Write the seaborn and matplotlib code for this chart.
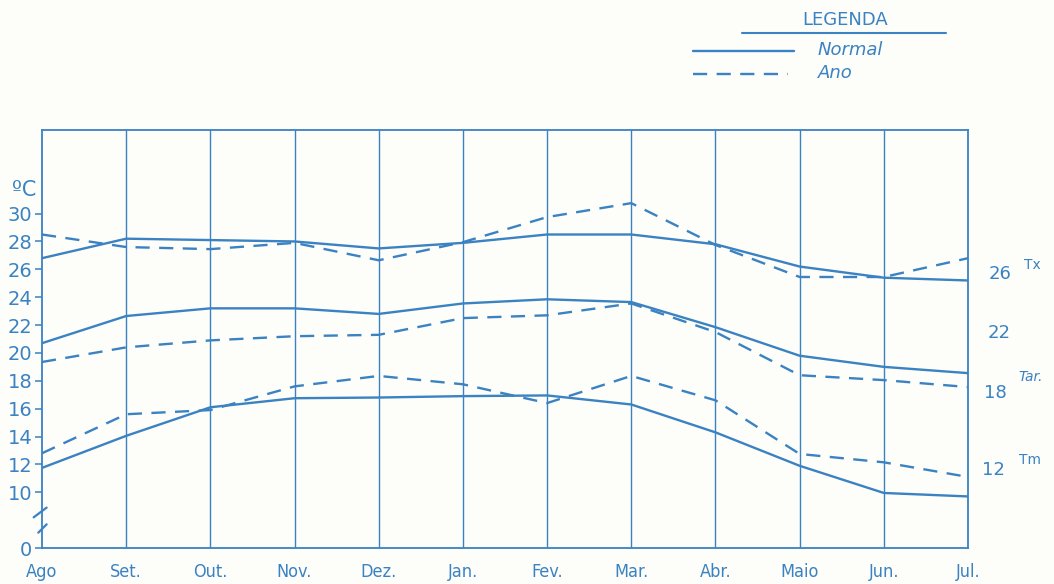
import matplotlib
matplotlib.use("Agg")
import matplotlib.pyplot as plt
import matplotlib.transforms as mtransforms
from matplotlib.lines import Line2D
import seaborn as sns
import pandas as pd

# ---- data ----
months = ["Ago", "Set.", "Out.", "Nov.", "Dez.", "Jan.", "Fev.", "Mar.", "Abr.", "Maio", "Jun.", "Jul."]
tx_normal = [26.8, 28.2, 28.1, 28.0, 27.5, 27.9, 28.5, 28.5, 27.8, 26.2, 25.4, 25.2]
tx_ano    = [28.5, 27.6, 27.45, 27.9, 26.65, 27.95, 29.75, 30.75, 27.75, 25.45, 25.45, 26.8]
tar_normal = [20.7, 22.65, 23.2, 23.2, 22.8, 23.55, 23.85, 23.65, 21.85, 19.8, 19.0, 18.55]
tar_ano    = [19.35, 20.4, 20.9, 21.2, 21.3, 22.5, 22.7, 23.55, 21.5, 18.4, 18.05, 17.55]
tm_normal = [11.75, 14.05, 16.1, 16.75, 16.8, 16.9, 16.95, 16.3, 14.3, 11.9, 9.95, 9.7]
tm_ano    = [12.8, 15.6, 15.9, 17.6, 18.35, 17.75, 16.4, 18.35, 16.6, 12.75, 12.15, 11.1]

ytick_pos = [6, 10, 12, 14, 16, 18, 20, 22, 24, 26, 28, 30]
ytick_labels = ["0", "10", "12", "14", "16", "18", "20", "22", "24", "26", "28", "30"]

BLUE = "#3a82c2"
BG = "#fdfdf9"

sns.set_style("white")
plt.rcParams["font.family"] = ["DejaVu Sans"]

rows = []
for var, n, a in [("Tx", tx_normal, tx_ano), ("Tar", tar_normal, tar_ano), ("Tm", tm_normal, tm_ano)]:
    for i in range(len(months)):
        rows.append({"x": i, "v": n[i], "var": var, "kind": "Normal"})
        rows.append({"x": i, "v": a[i], "var": var, "kind": "Ano"})
df = pd.DataFrame(rows)

fig = plt.figure(figsize=(10.54, 5.84), dpi=100, facecolor=BG)
ax = fig.add_axes([42 / 1054, 1 - 548 / 584, (968 - 42) / 1054, (548 - 130) / 584])
ax.set_facecolor(BG)

for var in ["Tx", "Tar", "Tm"]:
    for kind, ls in [("Normal", "-"), ("Ano", (0, (6, 4)))]:
        sub = df[(df["var"] == var) & (df["kind"] == kind)]
        sns.lineplot(data=sub, x="x", y="v", ax=ax, color=BLUE, lw=1.7,
                     linestyle=ls, sort=False, estimator=None, legend=False)

ax.set_xlim(0, len(months) - 1)
ax.set_ylim(6, 36)
ax.set_xticks(range(len(months)))
ax.set_xticklabels(months, fontsize=13, color=BLUE, fontstretch="condensed")
ax.set_yticks(ytick_pos)
ax.set_yticklabels(ytick_labels, fontsize=14, color=BLUE)
ax.tick_params(axis="x", length=0, pad=11)
ax.tick_params(axis="y", length=5, width=1.1, color=BLUE, direction="out", pad=2, left=True)
ax.set_xlabel("")
ax.set_ylabel("")
ax.grid(False)
for x in range(1, len(months) - 1):
    ax.axvline(x, color=BLUE, lw=1.0, zorder=0)
for s in ax.spines.values():
    s.set_color(BLUE)
    s.set_linewidth(1.3)
    s.set_visible(True)

# axis break marks
trans = mtransforms.blended_transform_factory(ax.transAxes, ax.transData)
ax.plot([-0.009, 0.005], [8.2, 8.9], color=BLUE, lw=1.6, transform=trans, clip_on=False)
ax.plot([-0.004, 0.005], [7.1, 7.7], color=BLUE, lw=1.6, transform=trans, clip_on=False)

# unit
fig.text(24 / 1054, 1 - 190 / 584, "ºC", fontsize=15, color=BLUE, ha="center", va="center")

# right side labels
def ftext(px, py, s, size=13, **kw):
    fig.text(px / 1054, 1 - py / 584, s, fontsize=size, color=BLUE, ha="center", va="center", **kw)

ftext(1000, 274, "26")
ftext(1032, 265, "Tx", 10)
ftext(999, 333, "22")
ftext(1031, 377, "Tar.", 10, style="italic")
ftext(995, 393, "18")
ftext(993, 470, "12")
ftext(1030, 460, "Tm", 10)

# legend
ftext(845, 20, "LEGENDA", 13)
fig.add_artist(Line2D([742 / 1054, 946 / 1054], [1 - 33 / 584] * 2, color=BLUE, lw=1.5))
fig.add_artist(Line2D([693 / 1054, 794 / 1054], [1 - 51 / 584] * 2, color=BLUE, lw=1.7))
fig.add_artist(Line2D([693 / 1054, 788 / 1054], [1 - 74 / 584] * 2, color=BLUE, lw=1.7,
                      linestyle=(0, (6, 4))))
fig.text(818 / 1054, 1 - 50 / 584, "Normal", fontsize=13, color=BLUE, ha="left", va="center", style="italic")
fig.text(818 / 1054, 1 - 73 / 584, "Ano", fontsize=13, color=BLUE, ha="left", va="center", style="italic")

fig.savefig("out.png", dpi=100, facecolor=BG)
